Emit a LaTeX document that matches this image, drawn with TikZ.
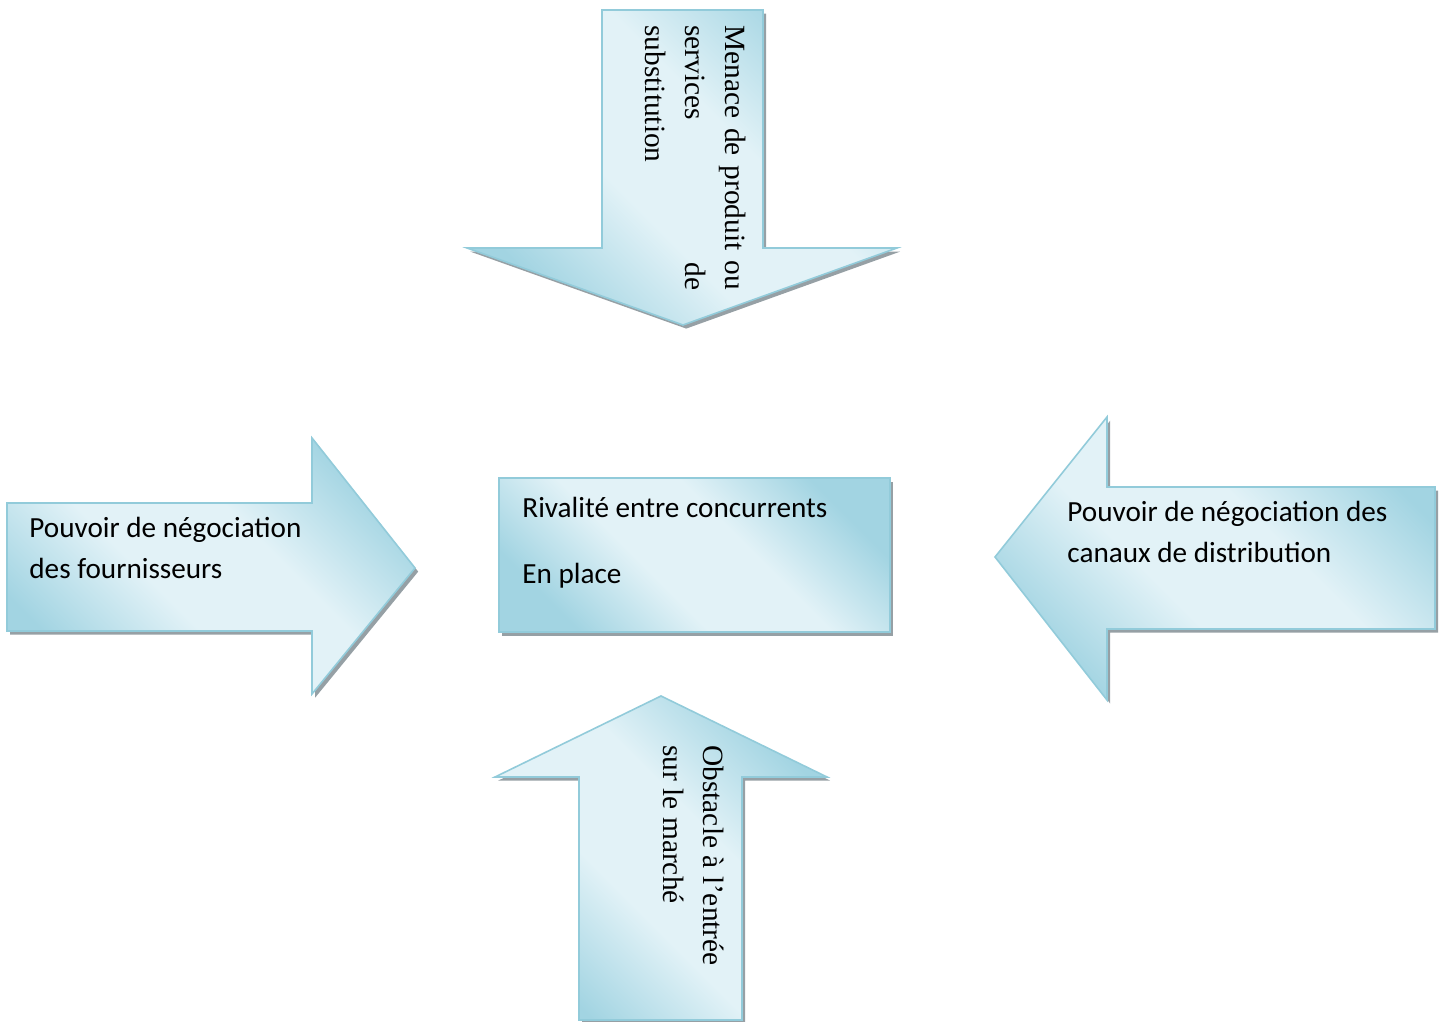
\documentclass[tikz,border=0pt]{standalone}
\usepackage{fontspec}
\setmainfont{Liberation Serif}
\newfontfamily\calibfont{Carlito}
\definecolor{arrowdark}{RGB}{162,212,226}
\definecolor{arrowlight}{RGB}{226,242,247}
\definecolor{arrowline}{RGB}{146,203,218}
\definecolor{shadowgray}{RGB}{150,160,165}
\pgfdeclarehorizontalshading{glassy}{100bp}{color(0bp)=(arrowdark); color(25bp)=(arrowdark); color(42bp)=(arrowlight); color(58bp)=(arrowlight); color(75bp)=(arrowdark); color(100bp)=(arrowdark)}
\tikzset{
  forcearrow/.style={draw=arrowline, line width=0.8pt, shading=glassy, shading angle=45,
    preaction={fill=shadowgray, transform canvas={shift={(1.6pt,-1.8pt)}}}},
  sidetext/.style={anchor=base west, inner sep=0pt, align=left,
    font=\calibfont\fontsize{14.6}{20.5}\selectfont},
  uptext/.style={anchor=base west, inner sep=0pt, rotate=-90, align=left,
    font=\fontsize{14.7}{20}\selectfont}
}
\begin{document}
\begin{tikzpicture}[x=0.5pt, y=-0.5pt]
      \useasboundingbox (0,0) rectangle (1443,1021);
      % substitution (top, pointing down)
      \draw[forcearrow] (602,10) -- (763,10) -- (763,248) -- (897,248) -- (683,325)
        -- (467,248) -- (602,248) -- cycle;
      % fournisseurs (left, pointing right)
      \draw[forcearrow] (7,503) -- (312,503) -- (312,438) -- (415,568) -- (312,694)
        -- (312,631) -- (7,631) -- cycle;
      % distribution (right, pointing left)
      \draw[forcearrow] (1435,487) -- (1107,487) -- (1107,417) -- (995,557) -- (1107,700)
        -- (1107,629) -- (1435,629) -- cycle;
      % entree (bottom, pointing up)
      \draw[forcearrow] (579,1020) -- (579,777) -- (495,777) -- (661,696) -- (827,777)
        -- (742,777) -- (742,1020) -- cycle;
      % rivalite (centre)
      \draw[forcearrow] (499,478) rectangle (890,632);
      % labels (base = baseline of the last line, of the first with text width)
      \node[sidetext] (fournisseurs) at (29,578) {Pouvoir de négociation\\des fournisseurs};
      \node[sidetext] (distribution) at (1067,562) {Pouvoir de négociation des\\canaux de distribution};
      \node[sidetext] (rivalite) at (522,583) {Rivalité entre concurrents\\[12.5pt]En place};
      \node[uptext, text width=132.5pt] (substitution) at (725,25)
        {Menace de produit ou\\services\hskip 0pt plus 1fill de\\substitution};
      \node[uptext] (entree) at (663,745) {Obstacle à l'entrée\\sur le marché};
\end{tikzpicture}
\end{document}
